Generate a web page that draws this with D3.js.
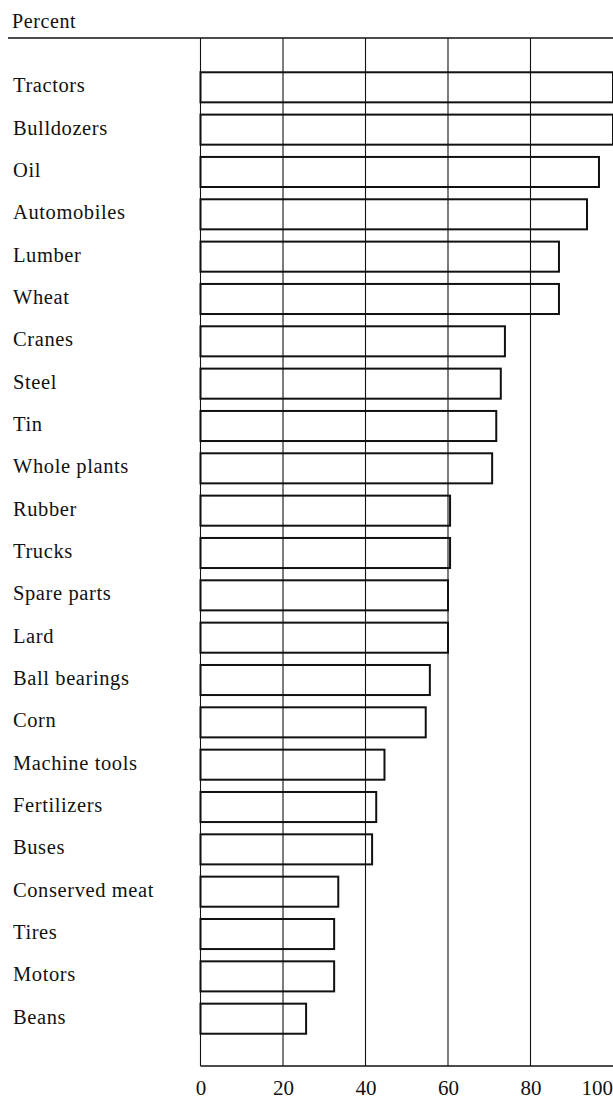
<!DOCTYPE html>
<html>
<head>
<meta charset="utf-8">
<script src="https://cdn.jsdelivr.net/npm/d3@7"></script>
<style>
  html, body { margin: 0; padding: 0; background: #fff; }
  svg { display: block; }
  text { font-family: "Liberation Serif", "Times New Roman", "DejaVu Serif", serif; fill: #111; }
</style>
</head>
<body>
<svg id="chart" width="613" height="1099"></svg>
<script>
const categories = [
  "Tractors", "Bulldozers", "Oil", "Automobiles", "Lumber", "Wheat",
  "Cranes", "Steel", "Tin", "Whole plants", "Rubber", "Trucks",
  "Spare parts", "Lard", "Ball bearings", "Corn", "Machine tools",
  "Fertilizers", "Buses", "Conserved meat", "Tires", "Motors", "Beans"
];
const percents = [
  100, 100, 96.6, 93.7, 86.9, 86.9,
  73.8, 72.8, 71.7, 70.7, 60.5, 60.5,
  60, 60, 55.6, 54.6, 44.6,
  42.6, 41.6, 33.4, 32.4, 32.4, 25.6
];
const tickValues = [0, 20, 40, 60, 80, 100];
const axisTitle = "Percent";

const svg = d3.select("#chart");
const W = 613, H = 1099;
const plotTop = 38, plotBottom = 1066;

const x = d3.scaleLinear().domain([0, 100]).range([200.5, 613]);
const y = d3.scaleBand().domain(categories).range([60, 1046]).padding(0.29);

// title
svg.append("text")
  .attr("x", 12).attr("y", 28)
  .attr("font-size", 20)
  .attr("letter-spacing", 0.6)
  .text(axisTitle);

// top rule
svg.append("line")
  .attr("x1", 8).attr("x2", W)
  .attr("y1", plotTop).attr("y2", plotTop)
  .attr("stroke", "#111").attr("stroke-width", 1.3);

// bottom rule
svg.append("line")
  .attr("x1", x(0)).attr("x2", W)
  .attr("y1", plotBottom).attr("y2", plotBottom)
  .attr("stroke", "#111").attr("stroke-width", 1.5);

// gridlines (incl. left edge)
svg.append("g").selectAll("line")
  .data(tickValues.filter(d => d < 100))
  .join("line")
  .attr("x1", d => x(d)).attr("x2", d => x(d))
  .attr("y1", plotTop).attr("y2", plotBottom)
  .attr("stroke", "#111").attr("stroke-width", 1.1);

// bars
svg.append("g").selectAll("rect")
  .data(categories.map((c, i) => ({ c, v: percents[i] })))
  .join("rect")
  .attr("x", x(0))
  .attr("y", d => y(d.c))
  .attr("width", d => x(d.v) - x(0))
  .attr("height", y.bandwidth())
  .attr("fill", "none")
  .attr("stroke", "#111")
  .attr("stroke-width", 2);

// category labels
svg.append("g").selectAll("text")
  .data(categories)
  .join("text")
  .attr("x", 13)
  .attr("y", d => y(d) + y.bandwidth() / 2 + 5)
  .attr("font-size", 20.5)
  .attr("letter-spacing", 0.6)
  .text(d => d);

// x axis labels
const axis = d3.axisBottom(x).tickValues(tickValues).tickSize(0).tickPadding(0);
const gAxis = svg.append("g")
  .attr("transform", `translate(0, ${plotBottom + 14})`)
  .call(axis);
gAxis.select(".domain").remove();
gAxis.selectAll("text")
  .attr("font-size", 21)
  .attr("font-family", "Liberation Serif, Times New Roman, serif")
  .attr("fill", "#111");
// keep the last label inside the page edge
gAxis.selectAll(".tick")
  .filter(d => d === 100)
  .select("text")
  .attr("text-anchor", "end")
  .attr("dx", -0.5);
</script>
</body>
</html>
